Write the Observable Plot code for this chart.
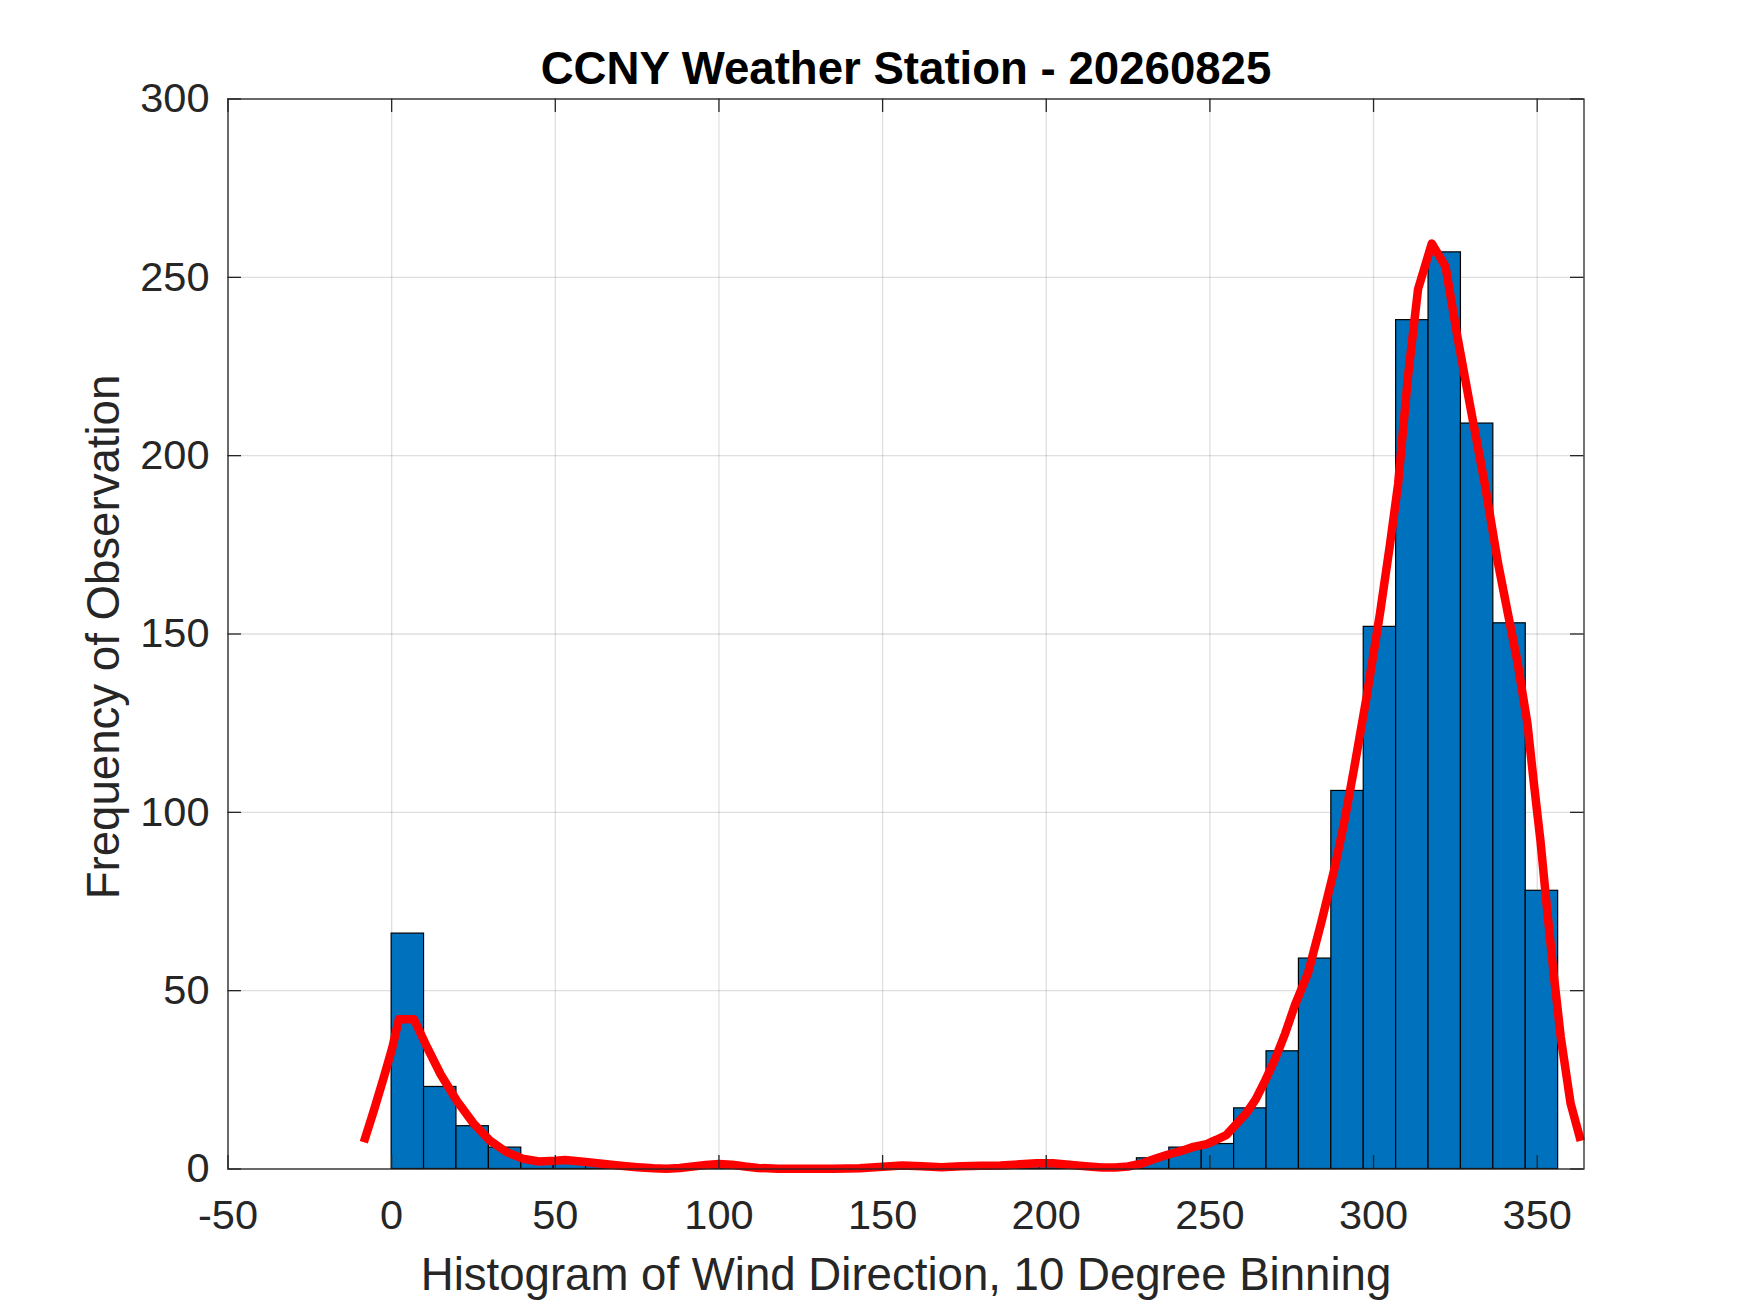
<!DOCTYPE html>
<html>
<head>
<meta charset="utf-8">
<script src="https://cdn.jsdelivr.net/npm/d3@7"></script>
<script src="https://cdn.jsdelivr.net/npm/@observablehq/plot@0.6"></script>
<style>
  html, body { margin: 0; padding: 0; background: #ffffff; }
  #chart svg { display: block; }
</style>
</head>
<body>
<div id="chart"></div>
<script>
// ---- Data ----
const titleText = "CCNY Weather Station - 20260825";
const xLabelText = "Histogram of Wind Direction, 10 Degree Binning";
const yLabelText = "Frequency of Observation";

// histogram bin edges (degrees)
const binEdges = [0, 9.9, 19.8, 29.7, 39.6, 49.5, 59.4, 69.3, 79.2, 89.1, 99, 108.9,
  118.8, 128.7, 138.6, 148.5, 158.4, 168.3, 178.2, 188.1, 198, 207.9, 217.8, 227.7,
  237.6, 247.5, 257.4, 267.3, 277.2, 287.1, 297, 306.9, 316.8, 326.7, 336.6, 346.5, 356.4];

// counts per bin
const binCounts = [66, 23, 12, 6, 2, 2, 1, 1, 0, 1, 1, 0,
  0, 0, 0, 1, 0, 1, 1, 1, 1, 0, 1, 3,
  6, 7, 17, 33, 59, 106, 152, 238, 257, 209, 153, 78];

// smoothed density curve (scaled to counts)
const densityX = [-8.5, -5.4, -2.3, 0.2, 2.2, 6.8, 10.9, 15, 20, 25, 30, 35, 40, 45, 50, 53, 57, 60,
  65, 70, 75, 80, 84, 88, 92, 96, 100, 104, 108, 112, 118, 125, 135, 143, 150, 156, 162, 168,
  174, 180, 186, 192, 197, 202, 207, 212, 217, 221, 225, 229, 233, 237, 241, 245, 249, 252,
  255, 258, 261, 264, 267, 270, 273, 276, 280, 284, 288, 291, 294, 298, 302, 305, 307.5, 310.5,
  313.6, 317.8, 322, 325.5, 329.5, 334, 338, 341, 344, 347, 349, 351, 353, 355, 357.2, 360.2, 363.3];
const densityY = [7.5, 16.5, 26, 34, 42, 42, 34, 26.5, 19, 12.8, 8, 4.8, 2.9, 2.1, 2.3, 2.5, 2.2, 1.9,
  1.4, 0.9, 0.5, 0.2, 0.1, 0.3, 0.7, 1.1, 1.4, 1.2, 0.7, 0.3, 0.1, 0.05, 0.05, 0.2, 0.6, 1.0, 0.8, 0.5,
  0.8, 0.9, 1.0, 1.3, 1.6, 1.6, 1.2, 0.8, 0.4, 0.4, 0.7, 1.5, 2.8, 4.0, 5.0, 6.2, 7.0, 8.2,
  9.5, 12.5, 15.5, 19.5, 25, 31, 38, 46, 55, 69, 84, 97, 112, 133, 156, 175, 192, 222,
  246.7, 259.5, 253, 234, 214, 192, 170, 156, 142, 125, 108, 92, 73, 55, 37, 18.4, 7.9];

const xTicks = [-50, 0, 50, 100, 150, 200, 250, 300, 350];
const yTicks = [0, 50, 100, 150, 200, 250, 300];
const xDomain = [-50, 364.3];
const yDomain = [0, 300];

// ---- Build tables ----
const bins = binCounts.map((c, i) => ({x1: binEdges[i], x2: binEdges[i + 1], count: c}));
const density = densityX.map((x, i) => ({x, y: densityY[i]}));

// ---- Layout ----
const W = 1750, H = 1313;
const mL = 227.5, mR = 166.5, mT = 98.5, mB = 144.5;
const frameW = W - mL - mR, frameH = H - mT - mB;
const tickLen = 13.5;
const axisColor = "#262626";
const font = "'Liberation Sans', Arial, Helvetica, sans-serif";

const chart = Plot.plot({
  width: W,
  height: H,
  marginLeft: mL,
  marginRight: mR,
  marginTop: mT,
  marginBottom: mB,
  style: {fontFamily: font, background: "#ffffff", color: axisColor, overflow: "visible"},
  x: {domain: xDomain, ticks: xTicks},
  y: {domain: yDomain, ticks: yTicks},
  marks: [
    Plot.gridX(xTicks, {stroke: "#262626", strokeOpacity: 0.15, strokeWidth: 1.3}),
    Plot.gridY(yTicks, {stroke: "#262626", strokeOpacity: 0.15, strokeWidth: 1.3}),
    Plot.rectY(bins, {x1: "x1", x2: "x2", y1: 0, y2: "count", fill: "#0072BD", stroke: "#000000", strokeWidth: 1.2}),
    Plot.line(density, {x: "x", y: "y", stroke: "#FF0000", strokeWidth: 8.5, strokeLinejoin: "round", strokeLinecap: "butt", curve: "linear"}),
    // inward ticks on all four sides
    Plot.tickX(xTicks, {x: d => d, insetTop: frameH - tickLen, stroke: axisColor, strokeWidth: 1.3}),
    Plot.tickX(xTicks, {x: d => d, insetBottom: frameH - tickLen, stroke: axisColor, strokeWidth: 1.3}),
    Plot.tickY(yTicks, {y: d => d, insetRight: frameW - tickLen, stroke: axisColor, strokeWidth: 1.3}),
    Plot.tickY(yTicks, {y: d => d, insetLeft: frameW - tickLen, stroke: axisColor, strokeWidth: 1.3}),
    Plot.frame({stroke: axisColor, strokeWidth: 1.3}),
    Plot.axisX(xTicks, {anchor: "bottom", tickSize: 0, tickPadding: 30.6, fontSize: 41.5, label: null, tickFormat: d => `${d}`, fill: axisColor}),
    Plot.axisY(yTicks, {anchor: "left", tickSize: 0, tickPadding: 18.5, fontSize: 41.5, label: null, tickFormat: d => `${d}`, fill: axisColor}),
    Plot.text([titleText], {frameAnchor: "top", lineAnchor: "bottom", dy: -15.2, fontSize: 45.6, fontWeight: "bold", fill: "#000000"}),
    Plot.text([xLabelText], {frameAnchor: "bottom", lineAnchor: "bottom", dy: 120.7, fontSize: 45.6, fill: axisColor}),
    Plot.text([yLabelText], {frameAnchor: "left", textAnchor: "middle", lineAnchor: "middle", rotate: -90, dx: -123.5, dy: 3, fontSize: 45.6, fill: axisColor})
  ]
});

document.getElementById("chart").appendChild(chart);
</script>
</body>
</html>
